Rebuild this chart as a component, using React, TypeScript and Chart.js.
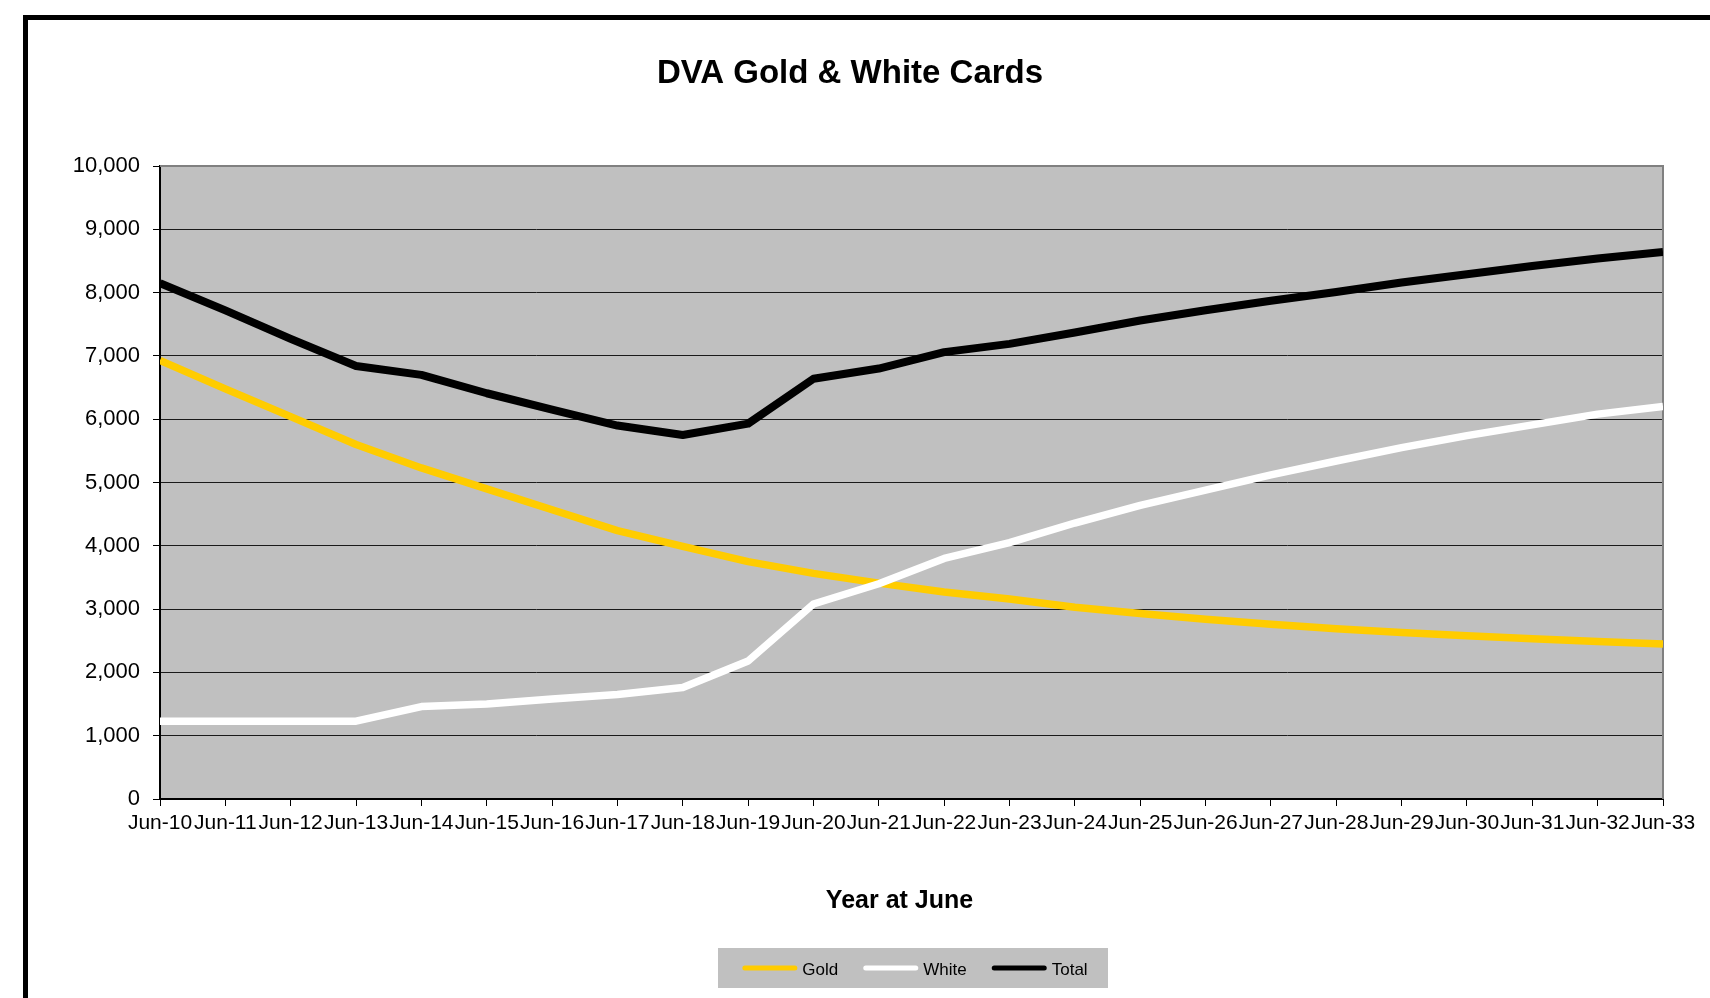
import React, { useEffect, useRef } from "react";
import { Chart, registerables } from "chart.js";

Chart.register(...registerables);

const chartTitle = "DVA Gold & White Cards";
const xAxisTitle = "Year at June";

const categories = [
  "Jun-10", "Jun-11", "Jun-12", "Jun-13", "Jun-14", "Jun-15", "Jun-16", "Jun-17",
  "Jun-18", "Jun-19", "Jun-20", "Jun-21", "Jun-22", "Jun-23", "Jun-24", "Jun-25",
  "Jun-26", "Jun-27", "Jun-28", "Jun-29", "Jun-30", "Jun-31", "Jun-32", "Jun-33",
];

const goldValues = [
  6930, 6480, 6040, 5600, 5230, 4900, 4570, 4240, 3990, 3750, 3565, 3410,
  3270, 3160, 3030, 2930, 2840, 2760, 2690, 2630, 2580, 2530, 2490, 2450,
];

const whiteValues = [
  1230, 1230, 1230, 1230, 1460, 1500, 1580, 1650, 1760, 2180, 3080, 3400,
  3800, 4050, 4360, 4640, 4880, 5120, 5340, 5550, 5740, 5910, 6080, 6200,
];

const totalValues = [
  8150, 7720, 7270, 6840, 6700, 6410, 6150, 5900, 5750, 5930, 6640, 6800,
  7060, 7190, 7370, 7560, 7720, 7870, 8010, 8160, 8290, 8420, 8540, 8640,
];

const yTickValues = [0, 1000, 2000, 3000, 4000, 5000, 6000, 7000, 8000, 9000, 10000];

const FONT = '"Liberation Sans", Arial, sans-serif';

const decorPlugin = {
  id: "decor",
  beforeDraw(chart: any) {
    const { ctx, chartArea: a } = chart;
    ctx.save();
    ctx.fillStyle = "#C0C0C0";
    ctx.fillRect(a.left, a.top, a.right - a.left, a.bottom - a.top);
    ctx.restore();
  },
  beforeDatasetsDraw(chart: any) {
    const { ctx, chartArea: a } = chart;
    ctx.save();
    ctx.strokeStyle = "#808080";
    ctx.lineWidth = 2;
    ctx.beginPath();
    ctx.moveTo(a.left, a.top);
    ctx.lineTo(a.right, a.top);
    ctx.lineTo(a.right, a.bottom);
    ctx.stroke();
    ctx.restore();
  },
  afterDraw(chart: any) {
    const { ctx } = chart;
    ctx.save();
    ctx.fillStyle = "#000";
    ctx.textAlign = "center";
    ctx.textBaseline = "alphabetic";
    ctx.font = `bold 33px ${FONT}`;
    ctx.fillText(chartTitle, 850, 82.5);
    ctx.font = `bold 25px ${FONT}`;
    ctx.fillText(xAxisTitle, 899.5, 907.5);

    // legend
    const boxX = 718, boxY = 948, boxW = 390, boxH = 40;
    ctx.fillStyle = "#C0C0C0";
    ctx.fillRect(boxX, boxY, boxW, boxH);
    ctx.font = `17px ${FONT}`;
    const lineLen = 50;
    const cap = 2.5;
    const gapText = 7.5;
    const gapItem = 25;
    const items = chart.data.datasets.map((d: any) => ({
      label: d.label,
      color: d.borderColor,
      w: ctx.measureText(d.label).width,
    }));
    let totalW = 0;
    items.forEach((it: any, i: number) => {
      totalW += cap * 2 + lineLen + (gapText - cap) + it.w;
      if (i < items.length - 1) totalW += gapItem;
    });
    let x = 915 - totalW / 2;
    const ly = 968;
    ctx.textAlign = "left";
    items.forEach((it: any) => {
      ctx.strokeStyle = it.color;
      ctx.lineWidth = 5;
      ctx.lineCap = "round";
      ctx.beginPath();
      ctx.moveTo(x + cap, ly);
      ctx.lineTo(x + cap + lineLen, ly);
      ctx.stroke();
      const tx = x + cap + lineLen + gapText;
      ctx.fillStyle = "#000";
      ctx.fillText(it.label, tx, 975);
      x = tx + it.w + gapItem;
    });
    ctx.restore();
  },
};

export default function App() {
  const canvasRef = useRef<HTMLCanvasElement | null>(null);

  useEffect(() => {
    const canvas = canvasRef.current;
    if (!canvas) return;
    const chart = new Chart(canvas, {
      type: "line",
      data: {
        labels: categories,
        datasets: [
          {
            label: "Gold",
            data: goldValues,
            borderColor: "#FFCC00",
            backgroundColor: "#FFCC00",
            borderWidth: 7.5,
            order: 2,
          },
          {
            label: "White",
            data: whiteValues,
            borderColor: "#FFFFFF",
            backgroundColor: "#FFFFFF",
            borderWidth: 7.5,
            order: 1,
          },
          {
            label: "Total",
            data: totalValues,
            borderColor: "#000000",
            backgroundColor: "#000000",
            borderWidth: 8,
            order: 0,
          },
        ],
      },
      options: {
        responsive: false,
        animation: false,
        devicePixelRatio: 1,
        layout: { padding: { left: 40, right: 47, top: 166, bottom: 139 } },
        elements: {
          point: { radius: 0, hoverRadius: 0 },
          line: { tension: 0, fill: false, borderJoinStyle: "round", borderCapStyle: "butt" },
        },
        datasets: { line: { clip: 0 } } as any,
        plugins: {
          legend: { display: false },
          title: { display: false },
          tooltip: { enabled: false },
        },
        scales: {
          x: {
            type: "category",
            offset: false,
            grid: {
              drawOnChartArea: false,
              drawTicks: true,
              tickLength: 7,
              tickColor: "#000",
              tickWidth: 1,
            },
            border: { display: true, color: "#000", width: 2 },
            ticks: {
              autoSkip: false,
              maxRotation: 0,
              minRotation: 0,
              padding: 5,
              color: "#000",
              font: { family: FONT, size: 21 },
            },
            afterFit(s: any) {
              s.height = 60;
            },
          },
          y: {
            min: 0,
            max: 10000,
            afterBuildTicks(s: any) {
              s.ticks = yTickValues.map((v) => ({ value: v }));
            },
            grid: {
              color: (c: any) =>
                c.tick && c.tick.value === 10000 ? "rgba(0,0,0,0)" : "#1a1a1a",
              lineWidth: 1,
              drawTicks: true,
              tickLength: 7,
              tickColor: "#000",
              tickWidth: 1,
            },
            border: { display: true, color: "#000", width: 2 },
            ticks: {
              padding: 13,
              color: "#000",
              font: { family: FONT, size: 22 },
              callback: (v: any) => Number(v).toLocaleString("en-US"),
            },
            afterFit(s: any) {
              s.width = 120;
            },
          },
        },
      },
      plugins: [decorPlugin],
    });
    return () => chart.destroy();
  }, []);

  return (
    <div
      style={{
        position: "fixed",
        left: 0,
        top: 0,
        width: 1710,
        height: 998,
        overflow: "hidden",
        background: "#fff",
      }}
    >
      <div
        style={{
          position: "absolute",
          left: 23,
          top: 15,
          width: 1900,
          height: 1200,
          border: "5px solid #000",
          boxSizing: "border-box",
        }}
      />
      <canvas
        ref={canvasRef}
        width={1710}
        height={998}
        style={{ position: "absolute", left: 0, top: 0, width: 1710, height: 998 }}
      />
    </div>
  );
}
